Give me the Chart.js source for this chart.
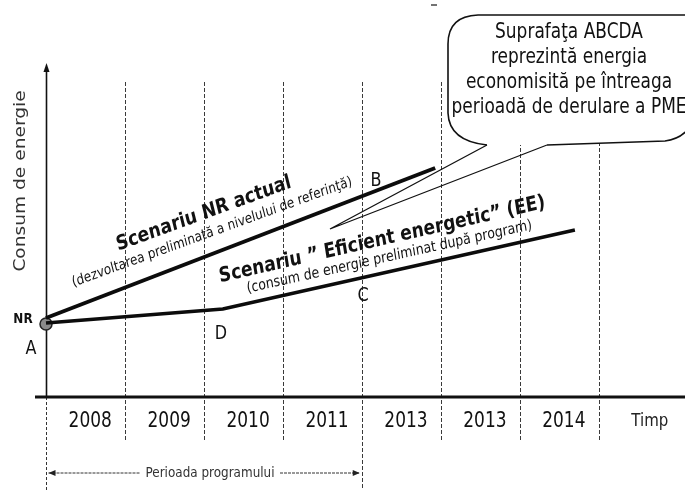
<!DOCTYPE html>
<html><head><meta charset="utf-8">
<script src="https://cdn.jsdelivr.net/npm/chart.js@4/dist/chart.umd.min.js"></script>
<style>html,body{margin:0;padding:0;background:#fff}#wrap{width:685px;height:490px;position:relative}</style>
</head><body><div id="wrap"><canvas id="c" width="685" height="490"></canvas></div>
<script>
// ---- data ----
const categories = ['2008','2009','2010','2011','2013','2013','2014','Timp'];
const gridPositions = [1,2,3,4,5,6,7];
const programEnd = 4;            // end of "Perioada programului"
const nrX = [0, 4.93];           // Scenariu NR actual
const nrY = [79, 229];
const eeX = [0, 2.24, 6.70];     // Scenariu "Eficient energetic"
const eeY = [74, 88, 167];
const startX = [0];              // point A / NR
const startY = [73];
const yAxisTitle = 'Consum de energie';
const nrTitle = 'Scenariu NR actual';
const nrSub = '(dezvoltarea preliminată a nivelului de referinţă)';
const eeTitle = 'Scenariu \u201D Eficient energetic\u201D (EE)';
const eeSub = '(consum de energie preliminat după program)';
const bubbleLines = ['Suprafaţa ABCDA','reprezintă energia','economisită pe întreaga','perioadă de derulare a PME'];
const periodLabel = 'Perioada programului';

const K = 1.2;
const FONT = '"DejaVu Sans", Verdana, sans-serif';
function txt(ctx, s, x, y, o) {
  o = o || {};
  const k = o.k == null ? K : o.k;
  ctx.save();
  ctx.translate(x, y);
  ctx.scale(1, k);
  if (o.angle) {
    if (Math.abs(o.angle) === 90) ctx.rotate(o.angle * Math.PI / 180);
    else ctx.rotate(Math.atan(Math.tan(o.angle * Math.PI / 180) / k));
  }
  ctx.font = o.font || ('16px ' + FONT);
  ctx.fillStyle = o.color || '#111';
  ctx.textAlign = o.align || 'center';
  ctx.textBaseline = o.baseline || 'alphabetic';
  ctx.fillText(s, 0, 0);
  ctx.restore();
}
function vline(ctx, x, y0, y1, dash, w, col) {
  ctx.save(); ctx.beginPath(); ctx.setLineDash(dash); ctx.lineWidth = w; ctx.strokeStyle = col;
  ctx.moveTo(x, y0); ctx.lineTo(x, y1); ctx.stroke(); ctx.restore();
}

const decor = {
  id: 'decor',
  beforeDatasetsDraw(chart) {
    const ctx = chart.ctx, xs = chart.scales.x, ys = chart.scales.y;
    const top = chart.chartArea.top, bot = ys.getPixelForValue(0);
    // vertical grid
    gridPositions.forEach(g => {
      const px = Math.round(xs.getPixelForValue(g)) + 0.5;
      vline(ctx, px, top, g === programEnd ? 490 : 442, [4, 2], 1, '#3a3a3a');
    });
    // y axis
    const x0 = Math.round(xs.getPixelForValue(0)) + 0.5;
    vline(ctx, x0, 68, bot, [], 1.6, '#111');
    vline(ctx, x0, bot, 490, [3, 2], 1, '#333');
    ctx.save(); ctx.fillStyle = '#111'; ctx.beginPath();
    ctx.moveTo(x0, 63); ctx.lineTo(x0 - 3, 72); ctx.lineTo(x0 + 3, 72); ctx.closePath(); ctx.fill(); ctx.restore();
    // x axis
    ctx.save(); ctx.beginPath(); ctx.lineWidth = 3; ctx.strokeStyle = '#111';
    ctx.moveTo(35, bot); ctx.lineTo(685, bot); ctx.stroke(); ctx.restore();
    // category labels
    categories.forEach((c, i) => {
      if (c === 'Timp') txt(ctx, c, xs.getPixelForValue(i + 0.65), 426, { font: '15px ' + FONT, color: '#222' });
      else txt(ctx, c, xs.getPixelForValue(i + 0.56), 427, { font: '17px ' + FONT });
    });
    // y axis title
    txt(ctx, yAxisTitle, 21, 181, { font: '15.5px ' + FONT, angle: -90, baseline: 'middle', color: '#333' });
    // period arrow
    const pe = xs.getPixelForValue(programEnd) - 2, ps = x0 + 2, py = 473;
    ctx.save(); ctx.strokeStyle = '#333'; ctx.lineWidth = 1; ctx.setLineDash([3, 1]);
    ctx.beginPath(); ctx.moveTo(ps, py); ctx.lineTo(140, py); ctx.moveTo(280, py); ctx.lineTo(pe, py); ctx.stroke();
    ctx.setLineDash([]); ctx.fillStyle = '#222'; ctx.beginPath();
    ctx.moveTo(ps, py); ctx.lineTo(ps + 7, py - 3); ctx.lineTo(ps + 7, py + 3); ctx.closePath();
    ctx.moveTo(pe, py); ctx.lineTo(pe - 7, py - 3); ctx.lineTo(pe - 7, py + 3); ctx.closePath(); ctx.fill();
    ctx.restore();
    txt(ctx, periodLabel, 210, 477, { font: '12px ' + FONT, color: '#333' });
    // tiny scan mark at top
    ctx.save(); ctx.strokeStyle = '#444'; ctx.lineWidth = 1.5; ctx.beginPath(); ctx.moveTo(431, 5); ctx.lineTo(437, 5); ctx.stroke(); ctx.restore();
  },
  afterDatasetsDraw(chart) {
    const ctx = chart.ctx;
    // scenario texts
    txt(ctx, nrTitle, 205, 219, { font: 'bold 17px ' + FONT, angle: -20 });
    txt(ctx, nrSub, 213, 236, { font: '12px ' + FONT, angle: -20 });
    txt(ctx, eeTitle, 383, 245, { font: 'bold 17px ' + FONT, angle: -12.9 });
    txt(ctx, eeSub, 390, 261, { font: '12.5px ' + FONT, angle: -12.6 });
    // point labels
    txt(ctx, 'NR', 23, 319, { font: 'bold 12px ' + FONT, baseline: 'middle' });
    txt(ctx, 'A', 31, 349, { font: '16px ' + FONT, baseline: 'middle' });
    txt(ctx, 'B', 376, 181, { font: '16px ' + FONT, baseline: 'middle' });
    txt(ctx, 'C', 363, 296, { font: '16px ' + FONT, baseline: 'middle' });
    txt(ctx, 'D', 221, 334, { font: '16px ' + FONT, baseline: 'middle' });
    // callout bubble body
    ctx.save();
    ctx.beginPath();
    ctx.moveTo(547, 145);
    ctx.lineTo(665, 141);
    ctx.quadraticCurveTo(681, 139, 690, 127);
    ctx.lineTo(700, 15);
    ctx.lineTo(478, 15);
    ctx.quadraticCurveTo(448, 16, 448, 44);
    ctx.lineTo(448, 113);
    ctx.quadraticCurveTo(449, 141, 487, 145);
    ctx.fillStyle = '#fff'; ctx.fill();
    ctx.lineWidth = 1.6; ctx.strokeStyle = '#111'; ctx.stroke();
    // tail
    ctx.beginPath(); ctx.lineWidth = 1.3;
    ctx.moveTo(487, 145); ctx.lineTo(330, 229); ctx.lineTo(547, 145); ctx.stroke();
    ctx.restore();
    const bl = [38, 63, 88, 113];
    bubbleLines.forEach((s, i) => txt(ctx, s, 569, bl[i], { font: '17px ' + FONT, color: '#111' }));
  }
};

const toPts = (xa, ya) => xa.map((x, i) => ({ x, y: ya[i] }));

new Chart(document.getElementById('c'), {
  type: 'line',
  data: {
    datasets: [
      { data: toPts(nrX, nrY), borderColor: '#0c0c0c', borderWidth: 4, pointRadius: 0, tension: 0, clip: false },
      { data: toPts(eeX, eeY), borderColor: '#0c0c0c', borderWidth: 3.5, pointRadius: 0, tension: 0, clip: false },
      { data: toPts(startX, startY), showLine: false, pointRadius: 6, pointBackgroundColor: '#8a8a8a', pointBorderColor: '#222', pointBorderWidth: 1.5, clip: false }
    ]
  },
  options: {
    responsive: false, animation: false, devicePixelRatio: 1,
    layout: { padding: { left: 46, right: 0, top: 82, bottom: 93 } },
    scales: {
      x: { type: 'linear', min: 0, max: 8, display: false },
      y: { type: 'linear', min: 0, max: 315, display: false }
    },
    plugins: { legend: { display: false }, tooltip: { enabled: false } }
  },
  plugins: [decor]
});
</script></body></html>
